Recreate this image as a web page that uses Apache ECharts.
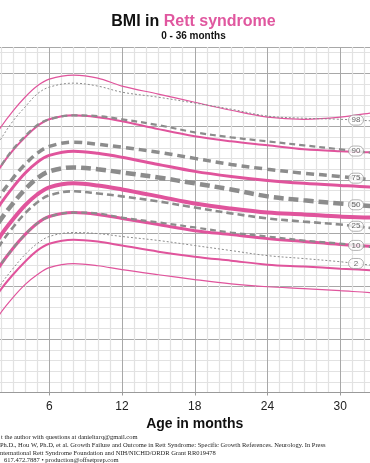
<!DOCTYPE html>
<html><head><meta charset="utf-8">
<script src="https://cdn.jsdelivr.net/npm/echarts@6/dist/echarts.min.js"></script>
<style>html,body{margin:0;padding:0;background:#fff;overflow:hidden}#c{width:370px;height:463px}</style>
</head><body><div id="c"></div>
<script>
// Age (months) at which the curves are sampled
const months = [0,1,2,3,4,5,6,8,10,12,15,18,21,24,27,30,33,36];
const percentiles = ['98','90','75','50','25','10','2'];

// Rett syndrome BMI percentiles (pink)
const rett98 = [16.40,17.23,17.98,18.59,19.11,19.53,19.79,19.94,19.83,19.53,19.23,18.92,18.62,18.36,18.28,18.36,18.55,18.74];
const rett90 = [14.92,15.75,16.51,17.11,17.60,18.02,18.28,18.43,18.36,18.21,17.91,17.64,17.45,17.30,17.15,17.08,17.04,17.04];
const rett75 = [13.53,14.36,15.11,15.72,16.25,16.66,16.92,17.08,17.00,16.85,16.58,16.32,16.13,15.98,15.87,15.79,15.72,15.68];
const rett50 = [12.32,13.15,13.91,14.51,15.04,15.45,15.72,15.87,15.79,15.64,15.38,15.11,14.92,14.77,14.70,14.62,14.58,14.58];
const rett25 = [11.23,12.06,12.81,13.42,13.94,14.36,14.62,14.77,14.70,14.55,14.32,14.09,13.94,13.79,13.68,13.57,13.49,13.45];
const rett10 = [10.28,11.11,11.87,12.43,12.92,13.34,13.60,13.75,13.68,13.53,13.30,13.11,12.96,12.81,12.74,12.66,12.59,12.51];
const rett2  = [9.42,10.25,11.00,11.57,12.06,12.43,12.70,12.85,12.77,12.62,12.43,12.25,12.09,11.98,11.91,11.83,11.75,11.72];

// Reference population BMI percentiles (gray dashed)
const ref98 = [15.94,16.77,17.53,18.21,18.74,19.23,19.49,19.64,19.53,19.30,19.11,18.89,18.66,18.40,18.32,18.28,18.21,18.13];
const ref90 = [14.92,15.75,16.51,17.15,17.64,18.06,18.28,18.43,18.40,18.28,18.06,17.79,17.60,17.45,17.30,17.15,17.00,16.89];
const ref75 = [13.87,14.70,15.45,16.06,16.58,17.00,17.26,17.42,17.34,17.23,17.04,16.81,16.58,16.40,16.25,16.13,15.98,15.87];
const ref50 = [12.92,13.75,14.51,15.11,15.64,16.06,16.32,16.47,16.40,16.28,16.09,15.87,15.64,15.38,15.23,15.11,15.00,14.89];
const ref25 = [12.02,12.85,13.60,14.21,14.74,15.15,15.42,15.57,15.49,15.38,15.19,14.96,14.74,14.55,14.43,14.32,14.17,14.06];
const ref10 = [11.23,12.06,12.81,13.42,13.94,14.36,14.62,14.77,14.74,14.58,14.40,14.21,14.02,13.87,13.72,13.60,13.45,13.34];
const ref2  = [10.47,11.30,12.06,12.66,13.19,13.60,13.87,14.02,13.98,13.87,13.72,13.53,13.34,13.15,13.04,12.92,12.77,12.66];

const labelMonth = 31.3;

const rettSets = [rett98, rett90, rett75, rett50, rett25, rett10, rett2];
const refSets  = [ref98, ref90, ref75, ref50, ref25, ref10, ref2];

const PINK = '#e0549c';
const GRAY = '#8c8c8c';
const rettWidth = [1.2, 2, 3, 4, 3, 2, 1.2];
const refWidth  = [1, 2.2, 3.5, 4.5, 2.6, 2.2, 1];
const refDash   = [[2,2],[6,4],[8,5],[10,5],[7,4],[6,4],[2,2]];

function pairs(arr){ return months.map((m,i)=>[m, arr[i]]); }
function interp(arr, m){
  for (let i=0;i<months.length-1;i++){
    if (m>=months[i] && m<=months[i+1]){
      const t=(m-months[i])/(months[i+1]-months[i]);
      return arr[i]+(arr[i+1]-arr[i])*t;
    }
  }
  return arr[arr.length-1];
}

const series = [];
rettSets.forEach((arr,i)=>{
  series.push({type:'line', name:'Rett '+percentiles[i], xAxisIndex:0, yAxisIndex:1,
    data:pairs(arr), showSymbol:false, smooth:0.35, silent:true, z:3,
    lineStyle:{color:PINK, width:rettWidth[i]}});
});
refSets.forEach((arr,i)=>{
  series.push({type:'line', name:'Ref '+percentiles[i], xAxisIndex:0, yAxisIndex:1,
    data:pairs(arr), showSymbol:false, smooth:0.35, silent:true, z:4,
    lineStyle:{color:GRAY, width:refWidth[i], type:refDash[i], cap:'butt'}});
});
series.push({type:'scatter', xAxisIndex:0, yAxisIndex:1, z:10, silent:true,
  data: refSets.map((arr,i)=>[labelMonth, interp(arr,labelMonth), percentiles[i]]),
  symbol:'path://M5,0 L10,0 A5,5 0 0 1 10,10 L5,10 A5,5 0 0 1 5,0 Z',
  symbolSize:[15,10],
  itemStyle:{color:'#fff', borderColor:'#8a8a8a', borderWidth:0.8},
  label:{show:true, position:'inside', formatter:p=>p.data[2], fontSize:8, color:'#444', fontFamily:'Liberation Sans'}
});

const chart = echarts.init(document.getElementById('c'), null, {renderer:'canvas'});
chart.setOption({
  animation:false,
  backgroundColor:'#fff',
  grid:{left:-23.5, right:-43, top:47, bottom:70.5, containLabel:false, outerBoundsMode:'none'},
  xAxis:[{type:'value', min:0, max:36, interval:6,
    axisLine:{show:true, lineStyle:{color:'#9a9a9a', width:1}},
    axisTick:{show:true, length:3, lineStyle:{color:'#9a9a9a'}},
    axisLabel:{fontSize:12, color:'#222', margin:8, fontFamily:'Liberation Sans'},
    splitLine:{show:true, lineStyle:{color:'#a8a8a8', width:1}},
    minorTick:{show:false, splitNumber:6},
    minorSplitLine:{show:true, lineStyle:{color:'#e2e2e2', width:1.2}},
    name:'Age in months', nameLocation:'middle', nameGap:21,
    nameTextStyle:{fontSize:14, fontWeight:'bold', color:'#111', fontFamily:'Liberation Sans'}
  }],
  yAxis:[
    {type:'value', min:8, max:21, interval:0.4, axisLabel:{show:false}, axisLine:{show:false}, axisTick:{show:false},
     splitLine:{show:true, lineStyle:{color:'#e2e2e2', width:1.2}}},
    {type:'value', min:8, max:21, interval:2, axisLabel:{show:false}, axisLine:{show:false}, axisTick:{show:false},
     splitLine:{show:true, lineStyle:{color:'#a8a8a8', width:1}}}
  ],
  graphic:[
    {type:'text', x:193.5, y:22, z:20, style:{text:'{a|BMI in }{b|Rett syndrome}', align:'center', verticalAlign:'middle',
      rich:{a:{fontSize:16, fontWeight:'bold', fontFamily:'Liberation Sans', fill:'#111'},
            b:{fontSize:16, fontWeight:'bold', fontFamily:'Liberation Sans', fill:'#e0579f'}}}},
    {type:'text', x:193.5, y:36, z:20, style:{text:'0 - 36 months', align:'center', verticalAlign:'middle',
      font:'bold 10px "Liberation Sans"', fill:'#111'}},
    {type:'text', x:1, y:437, z:20, style:{text:'t the author with questions at danieltarq@gmail.com', verticalAlign:'middle', font:'6.5px "Liberation Serif"', fill:'#222'}},
    {type:'text', x:0, y:445, z:20, style:{text:'Ph.D., Hou W, Ph.D, et al. Growth Failure and Outcome in Rett Syndrome: Specific Growth References. Neurology. In Press', verticalAlign:'middle', font:'6.5px "Liberation Serif"', fill:'#222'}},
    {type:'text', x:0, y:453, z:20, style:{text:'nternational Rett Syndrome Foundation and NIH/NICHD/ORDR Grant RR019478', verticalAlign:'middle', font:'6.5px "Liberation Serif"', fill:'#222'}},
    {type:'text', x:4, y:460.5, z:20, style:{text:'617.472.7887 \u2022 production@offsetprep.com', verticalAlign:'middle', font:'6.5px "Liberation Serif"', fill:'#222'}}
  ],
  series: series
});
</script>
</body></html>
